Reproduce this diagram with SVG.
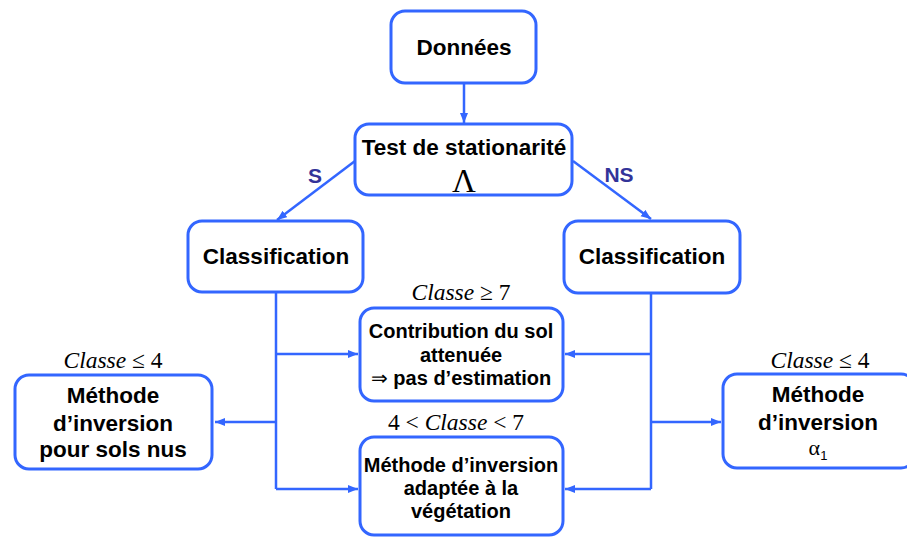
<svg xmlns="http://www.w3.org/2000/svg" width="907" height="538" viewBox="0 0 907 538">
<defs>
<style>
.box{fill:#fff;stroke:#3366ff;stroke-width:3}
.t{font-family:"Liberation Sans",Arial,sans-serif;font-weight:bold;fill:#000;text-anchor:middle}
.big{font-size:22.5px}
.mid{font-size:20px}
.m{font-family:"Liberation Serif","Times New Roman",serif;font-size:23.5px;fill:#000;text-anchor:middle}
.lab{font-family:"Liberation Sans",Arial,sans-serif;font-weight:bold;font-size:21px;fill:#333399;text-anchor:middle}
.c{fill:none;stroke:#3366ff;stroke-width:2.5}
</style>
<marker id="ah" markerUnits="userSpaceOnUse" markerWidth="11" markerHeight="9" refX="10" refY="4" orient="auto">
<path d="M0,0 L10,4 L0,8 z" fill="#3366ff"/>
</marker>
</defs>
<g id="connectors">
<line class="c" x1="464" y1="84" x2="464" y2="123" marker-end="url(#ah)"/>
<line class="c" x1="355" y1="161" x2="277" y2="220" marker-end="url(#ah)"/>
<line class="c" x1="573" y1="161" x2="651" y2="219" marker-end="url(#ah)"/>
<polyline class="c" points="276,293 276,489"/>
<line class="c" x1="276" y1="354" x2="358" y2="354" marker-end="url(#ah)"/>
<line class="c" x1="276" y1="489" x2="358" y2="489" marker-end="url(#ah)"/>
<line class="c" x1="276" y1="422" x2="215" y2="422" marker-end="url(#ah)"/>
<polyline class="c" points="651,293 651,489"/>
<line class="c" x1="651" y1="354" x2="565" y2="354" marker-end="url(#ah)"/>
<line class="c" x1="651" y1="489" x2="565" y2="489" marker-end="url(#ah)"/>
<line class="c" x1="651" y1="422" x2="721" y2="422" marker-end="url(#ah)"/>
<text class="lab" x="315" y="183">S</text>
<text class="lab" x="619" y="182">NS</text>
</g>
<g id="donnees">
<rect class="box" x="391" y="11" width="145" height="72" rx="14"/>
<text class="t big" x="464" y="55">Données</text>
</g>
<g id="test">
<rect class="box" x="355" y="124" width="217" height="71" rx="14"/>
<text class="t big" x="464" y="155">Test de stationarité</text>
<text x="464" y="192" font-family="'Liberation Serif','Times New Roman',serif" font-size="33" text-anchor="middle">Λ</text>
</g>
<g id="classif-left">
<rect class="box" x="188" y="221" width="175" height="71" rx="14"/>
<text class="t big" x="276" y="264">Classification</text>
</g>
<g id="classif-right">
<rect class="box" x="564" y="221" width="176" height="72" rx="14"/>
<text class="t big" x="652" y="264">Classification</text>
</g>
<g id="contribution">
<text class="m" x="461" y="300"><tspan font-style="italic">Classe</tspan> ≥ 7</text>
<rect class="box" x="360" y="308" width="203" height="93" rx="14"/>
<text class="t mid" x="461" y="338">Contribution du sol</text>
<text class="t mid" x="461" y="362">attenuée</text>
<text class="t mid" x="461" y="385"><tspan font-weight="normal">⇒</tspan> pas d’estimation</text>
</g>
<g id="vegetation">
<text class="m" x="456" y="430">4 &lt; <tspan font-style="italic">Classe</tspan> &lt; 7</text>
<rect class="box" x="360" y="437" width="203" height="98" rx="14"/>
<text class="t mid" x="461" y="472">Méthode d’inversion</text>
<text class="t mid" x="461" y="495">adaptée à la</text>
<text class="t mid" x="461" y="518">végétation</text>
</g>
<g id="sols-nus">
<text class="m" x="113" y="368"><tspan font-style="italic">Classe</tspan> ≤ 4</text>
<rect class="box" x="15" y="375" width="197" height="94" rx="14"/>
<text class="t big" x="113" y="403">Méthode</text>
<text class="t big" x="113" y="431">d’inversion</text>
<text class="t big" x="113" y="457">pour sols nus</text>
</g>
<g id="alpha">
<text class="m" x="820" y="368"><tspan font-style="italic">Classe</tspan> ≤ 4</text>
<rect class="box" x="723" y="374" width="192" height="94" rx="14"/>
<text class="t big" x="818" y="402">Méthode</text>
<text class="t big" x="818" y="430">d’inversion</text>
<text x="818" y="455" font-family="'Liberation Serif','Times New Roman',serif" font-size="22" text-anchor="middle">α<tspan font-family="'Liberation Sans',Arial,sans-serif" font-size="13" dy="5">1</tspan></text>
</g>
</svg>
